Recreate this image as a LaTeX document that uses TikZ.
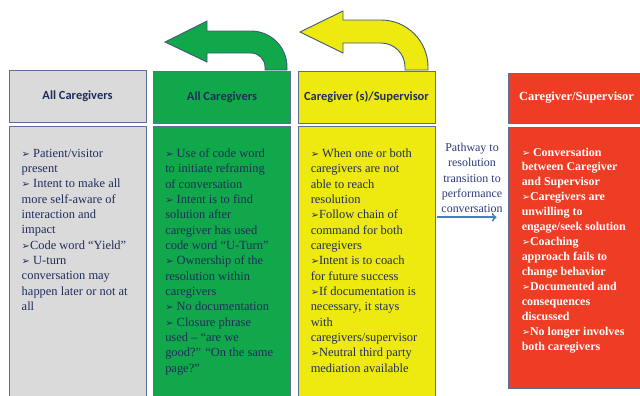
\documentclass[tikz,border=0pt]{standalone}
\usepackage{fontspec}
\setmainfont{Liberation Serif}
\newfontfamily\headfont{Carlito}
\newfontfamily\symfont{DejaVu Sans}
\newcommand{\bul}{{\symfont\fontsize{10}{10}\selectfont ➢}}
\definecolor{panelgray}{HTML}{DADADA}
\definecolor{panelgreen}{HTML}{10A84A}
\definecolor{panelyellow}{HTML}{EEEA10}
\definecolor{panelred}{HTML}{EE3D24}
\definecolor{edgeblue}{HTML}{5A6E96}
\definecolor{turnedge}{HTML}{3C5A7A}
\definecolor{navy}{HTML}{1F2D5C}
\definecolor{pathblue}{HTML}{2D3A7A}
\definecolor{flowblue}{HTML}{4A7EBE}
\begin{document}
\begin{tikzpicture}[x=1bp,y=-1bp,
    panel/.style ={draw=edgeblue, line width=0.9bp, inner sep=0pt, minimum width=137bp},
    header/.style ={panel, minimum height=52bp, text=navy,
                    font=\headfont\bfseries\fontsize{12.5}{14}\selectfont},
    body/.style ={panel, minimum height=274bp},
    bullets/.style ={anchor=north west, align=left, inner sep=0pt, text=navy,
                     font=\fontsize{12.5}{15.4}\selectfont},
    uturn/.style ={draw=turnedge, line width=0.9bp},
    flow/.style ={draw=flowblue, line width=2bp, ->}]
   \useasboundingbox (0,0) rectangle (640,395);
   % headers
   \node[header, fill=panelgray] (H1) at (77.5,96) {All Caregivers};
   \node[header, fill=panelgreen] (H2) at (222,97) {All Caregivers};
   \node[header, fill=panelyellow] (H3) at (366.5,97) {Caregiver (s)/Supervisor};
   \node[header, fill=panelred, minimum height=50bp, text=white,
         font=\bfseries\fontsize{12.5}{14}\selectfont] (H4) at (576.5,98) {Caregiver/Supervisor};
   % bodies
   \node[body, fill=panelgray] (B1) at (77.5,263) {};
   \node[body, fill=panelgreen] (B2) at (222,263) {};
   \node[body, fill=panelyellow] (B3) at (366.5,263) {};
   \node[body, fill=panelred, minimum height=261bp] (B4) at (576.5,257.5) {};
   % texts
   \node[bullets] (T1) at ([xshift=13bp,yshift=-23bp]B1.north west)
     {\bul\ Patient/visitor\\ present\\ \bul\ Intent to make all\\ more self-aware of\\
      interaction and\\ impact\\ \bul Code word “Yield”\\ \bul\ U-turn\\
      conversation may\\ happen later or not at\\ all};
   \node[bullets] (T2) at ([xshift=12bp,yshift=-23bp]B2.north west)
     {\bul\ Use of code word\\ to initiate reframing\\ of conversation\\
      \bul\ Intent is to find\\ solution after\\ caregiver has used\\ code word “U-Turn”\\
      \bul\ Ownership of the\\ resolution within\\ caregivers\\ \bul\ No documentation\\
      \bul\ Closure phrase\\ used – “are we\\ good?” “On the same\\ page?”};
   \node[bullets] (T3) at ([xshift=13bp,yshift=-23bp]B3.north west)
     {\bul\ When one or both\\ caregivers are not\\ able to reach\\ resolution\\
      \bul Follow chain of\\ command for both\\ caregivers\\ \bul Intent is to coach\\
      for future success\\ \bul If documentation is\\ necessary, it stays\\ with\\
      caregivers/supervisor\\ \bul Neutral third party\\ mediation available};
   \node[bullets, text=white, font=\bfseries\fontsize{12}{15}\selectfont] (T4)
     at ([xshift=14bp,yshift=-21bp]B4.north west)
     {\bul\ Conversation\\ between Caregiver\\ and Supervisor\\ \bul Caregivers are\\
      unwilling to\\ engage/seek solution\\ \bul Coaching\\ approach fails to\\
      change behavior\\ \bul Documented and\\ consequences\\ discussed\\
      \bul No longer involves\\ both caregivers};
   % u-turn arrows
   \path[uturn, fill=panelgreen] (165,42) -- (207,21) -- (207,31) -- (251,31)
     arc(270:360:36) -- (287,70) -- (265,70) -- (265,67) arc(0:-90:14)
     -- (207,53) -- (207,62) -- cycle;
   \path[uturn, fill=panelyellow] (300,32) -- (343,11) -- (343,20) -- (381,20)
     arc(270:360:47) -- (428,70) -- (405,70) -- (405,67) arc(0:-90:24)
     -- (343,43) -- (343,53) -- cycle;
   % pathway
   \node[align=center, inner sep=0pt, text=pathblue,
         font=\fontsize{12}{15.5}\selectfont] (P) at (472,178)
     {Pathway to\\ resolution\\ transition to\\ performance\\ conversation};
   \draw[flow, shorten <=2bp, shorten >=11bp]
     ([yshift=-4bp]P.south -| B3.east) -- ([yshift=-4bp]P.south -| B4.west);
 \end{tikzpicture}
\end{document}
